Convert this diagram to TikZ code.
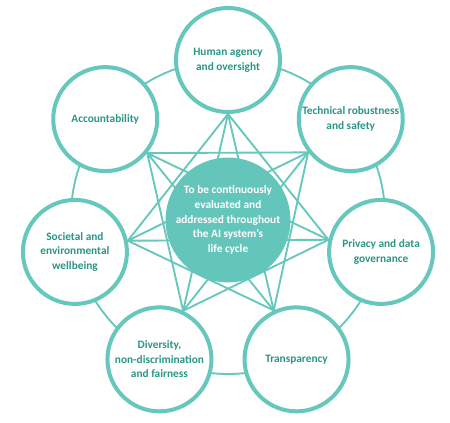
\documentclass[tikz,border=0pt]{standalone}
\usepackage{fontspec}
\setmainfont{Carlito}
\usepackage{xcolor}
\usetikzlibrary{calc,backgrounds}

\definecolor{ringteal}{HTML}{66C7BC}
\definecolor{hubteal}{HTML}{64C6BA}
\definecolor{labelteal}{HTML}{2A9686}

\begin{document}
\begin{tikzpicture}[x=0.75pt,y=0.75pt]
            \tikzstyle{value} = [circle, draw=ringteal, line width=3pt, fill=white, minimum size=78pt, inner sep=0pt, align=center, text=labelteal, font=\bfseries\fontsize{8.5}{11}\selectfont]
            \tikzstyle{hub} = [circle, fill=hubteal, minimum size=83pt, inner sep=0pt, align=center, text=white, font=\bfseries\fontsize{8.5}{11}\selectfont]
            \tikzstyle{link} = [ringteal, line width=1.4pt]

            \useasboundingbox (0,0) rectangle (450,423);
            \coordinate (c) at (228,206);

            \node [hub] (core) at ($(c)+(0,-3)$) {To be continuously\\evaluated and\\addressed throughout\\the AI system’s\\life cycle};

            \node [value] (human) at ($(c)+(90:157)$) {Human agency\\and oversight};
            \node [value] (acc) at ($(c)+(141.43:157)$) {Accountability};
            \node [value] (soc) at ($(c)+(192.86:157)$) {Societal and\\environmental\\wellbeing};
            \node [value] (div) at ($(c)+(244.29:158)$) {Diversity,\\non-discrimination\\and fairness};
            \node [value] (tra) at ($(c)+(295.71:158)$) {Transparency};
            \node [value] (pri) at ($(c)+(347.14:157)$) {Privacy and data\\governance};
            \node [value] (tec) at ($(c)+(38.57:157)$) {Technical robustness\\and safety};

            % inner points facing the hub
            \coordinate (p0) at (human.270);
            \coordinate (p1) at (acc.321.43);
            \coordinate (p2) at (soc.12.86);
            \coordinate (p3) at (div.64.29);
            \coordinate (p4) at (tra.115.71);
            \coordinate (p5) at (pri.167.14);
            \coordinate (p6) at (tec.218.57);

            \begin{scope}[on background layer]
                \draw [link] (c) circle (157);
                \draw [link] (p0) -- (p2) (p0) -- (p3) (p0) -- (p4) (p0) -- (p5);
                \draw [link] (p1) -- (p3) (p1) -- (p4) (p1) -- (p5) (p1) -- (p6);
                \draw [link] (p2) -- (p4) (p2) -- (p5) (p2) -- (p6);
                \draw [link] (p3) -- (p5) (p3) -- (p6);
                \draw [link] (p4) -- (p6);
            \end{scope}
        \end{tikzpicture}
\end{document}
